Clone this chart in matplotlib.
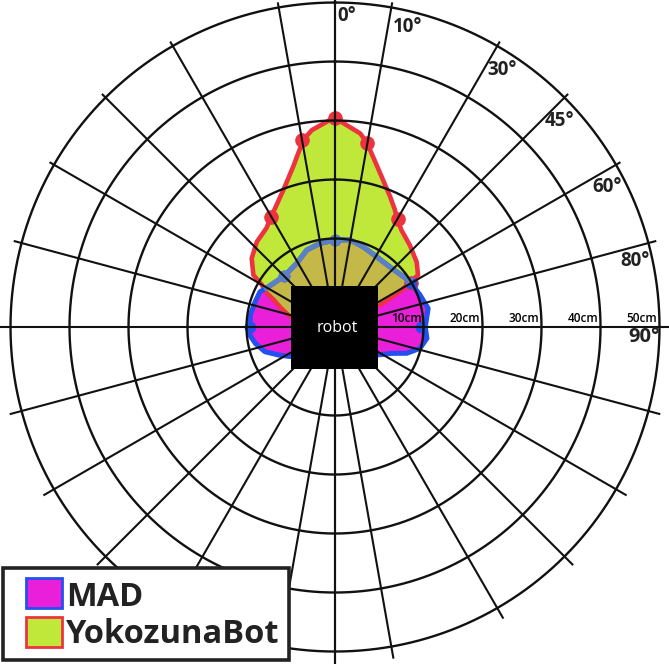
import numpy as np
import matplotlib
matplotlib.use("Agg")
import matplotlib.pyplot as plt
from matplotlib.patches import Rectangle

# distance rings (cm) and spoke directions (deg, clockwise from the front)
ring_cm = [10, 20, 30, 40, 50]
ring_labels = ['10cm', '20cm', '30cm', '40cm', '50cm']
spoke_deg = [0, 10, 30, 45, 60, 75, 90, 105, 120, 135, 150, 170, 180]
angle_labels = ['0°', '10°', '30°', '45°', '60°', '80°', '90°']

# YokozunaBot detection outline (deg, cm)
yoko_deg = [-77, -71, -66, -63, -60, -57.5, -50.5, -42.5, -34.7, -30, -20.7, -14.6,
            -9.6, -6.7, -1.4, 0, 2.3, 7.4, 9.8, 11.2, 16.3, 22.9, 27.1, 29.6, 34.5,
            42.4, 51.4, 58, 59, 61, 62.4, 64]
yoko_cm = [2.8, 4.6, 6.4, 8.3, 9.3, 11.4, 13.3, 14.6, 15.4, 16.6, 19.8, 23.1,
           27.2, 28.6, 30.1, 30.5, 29.6, 28.1, 26.7, 25.6, 22.2, 19.0, 17.3, 16.2, 14.9,
           13.8, 12.7, 11.6, 9.9, 7.9, 5.5, 3.5]
yoko_pt_deg = [-30, -10, 0, 10, 30, 60]
yoko_pt_cm = [16.6, 27.2, 30.5, 26.7, 16.2, 9.85]

# MAD detection outline (deg, cm)
mad_deg = [-123.4, -116.3, -109.4, -101.5, -95.4, -90.9, -82, -72.4, -64.8, -58.9,
           -45, -31, -20.2, -10.2, 0, 9.8, 19.4, 30.7, 42.4, 53.6, 58.9, 69.4, 78.7,
           90, 97, 104.1, 110.1, 114.9, 122.9]
mad_cm = [4.1, 5.7, 7.6, 8.8, 9.5, 9.4, 9.5, 9.2, 9.05, 8.2,
          7.2, 7.6, 8.9, 9.4, 9.75, 10.0, 9.4, 8.85, 8.8, 9.4, 9.85, 10.4, 11.1,
          10.3, 10.7, 9.85, 7.95, 5.6, 3.7]
mad_pt_deg = [-90, -45, 0, 60, 90]
mad_pt_cm = [9.4, 7.2, 9.75, 9.85, 9.6]

series_names = ['MAD', 'YokozunaBot']

GREEN = '#BFE83B'
OLIVE = '#C4B848'
PINK = '#E91FD9'
RED = '#EE3340'
BLUE = '#2350EE'
MUTED = '#5B80C4'
INK = '#111111'
TEXT = '#222222'

R0 = -5  # radius value at the very centre
W, H = 669, 664

# angle label placement (deg, cm)
label_pos_deg = [2.2, 13.7, 33, 47.5, 62.8, 77.6, 91.9]
label_pos_cm = [47.8, 47.3, 46.9, 46.7, 46.9, 47.1, 47.4]


def closed(deg, cm):
    th = np.deg2rad(deg)
    th = np.concatenate([th, [th[-1], th[0]]])
    r = np.concatenate([cm, [R0, R0]])
    return th, r


def spoke_len(d):
    if d in (0, 90, 180):
        return 60
    if d <= 60:
        return 50.7
    if d <= 75:
        return 51.2
    return 51.9


plt.rcParams['font.family'] = ['Open Sans', 'DejaVu Sans']

fig = plt.figure(figsize=(W / 100, H / 100), dpi=100)
ax = fig.add_axes([0.0157, 0.0188, 0.9701, 0.9774], projection='polar')
ax.set_theta_zero_location('N')
ax.set_theta_direction(-1)
ax.set_ylim(R0, 50)
ax.grid(False)
ax.set_xticks([])
ax.set_yticks([])
ax.spines['polar'].set_visible(False)

# filled areas
yoko_fill = ax.fill(*closed(yoko_deg, yoko_cm), color=GREEN, lw=0, zorder=1)[0]
ax.fill(*closed(mad_deg, mad_cm), color=PINK, lw=0, zorder=2)
overlap = ax.fill(*closed(mad_deg, mad_cm), color=OLIVE, lw=0, zorder=3)[0]
overlap.set_clip_path(yoko_fill)

# outlines and measured points
ax.plot(np.deg2rad(yoko_deg), yoko_cm, color=RED, lw=3.3, zorder=4,
        solid_capstyle='round', solid_joinstyle='round')
ax.plot(np.deg2rad(yoko_pt_deg), yoko_pt_cm, 'o', ms=9.5, color=RED, zorder=4)

ax.plot(np.deg2rad(mad_deg), mad_cm, color=BLUE, lw=3.6, zorder=5,
        solid_capstyle='round', solid_joinstyle='round')
ax.plot(np.deg2rad(mad_pt_deg), mad_pt_cm, 'o', ms=7.5, color=BLUE, zorder=5)
inner = ax.plot(np.deg2rad(mad_deg), mad_cm, color=MUTED, lw=3.6, zorder=5.1,
                solid_joinstyle='round')[0]
inner.set_clip_path(yoko_fill)
inner_pts = ax.plot(np.deg2rad(mad_pt_deg), mad_pt_cm, 'o', ms=7.5, color=MUTED,
                    zorder=5.1)[0]
inner_pts.set_clip_path(yoko_fill)

# grid: rings and spokes
th = np.linspace(0, 2 * np.pi, 721)
for rc in ring_cm:
    ax.plot(th, np.full_like(th, rc), color=INK, lw=1.7, zorder=6, clip_on=False)
for d in spoke_deg:
    for s in (1, -1):
        a = np.deg2rad(s * d)
        ax.plot([a, a], [R0, spoke_len(d)], color=INK, lw=1.5, zorder=6, clip_on=False)

# robot body
ax.add_patch(Rectangle((0.432, 0.435), 0.134, 0.128, transform=ax.transAxes,
                       facecolor='black', edgecolor='none', zorder=7))
ax.text(0.503, 0.498, 'robot', transform=ax.transAxes, color='white',
        fontsize=11.5, ha='center', va='center', zorder=8)

# distance labels along the 90° spoke
for rc, lab in zip(ring_cm, ring_labels):
    ax.annotate(lab, xy=(np.pi / 2, rc), xytext=(-1.5, 1.2), textcoords='offset points',
                ha='right', va='bottom', fontsize=8.5, color='black',
                fontweight='semibold', zorder=8, annotation_clip=False)

# angle labels
for lab, d, rc in zip(angle_labels, label_pos_deg, label_pos_cm):
    size = 14.5 if lab == '90°' else 13.5
    ax.text(np.deg2rad(d), rc, lab, ha='center', va='center', fontsize=size,
            fontweight='bold', color=TEXT, zorder=8, clip_on=False)

# legend box, drawn in figure pixels
def px(x, y_top):
    return x / W, 1 - y_top / H

fig.patches.append(Rectangle(px(3, 660), 286 / W, 92 / H, transform=fig.transFigure,
                             facecolor='white', edgecolor=TEXT, lw=2.6, zorder=10))
swatches = [(PINK, BLUE, 578, 606), (GREEN, RED, 617, 643)]
for name, (fc, ec, top, base) in zip(series_names, swatches):
    fig.patches.append(Rectangle(px(26, top + 30), 36 / W, 30 / H,
                                 transform=fig.transFigure, facecolor=fc,
                                 edgecolor=ec, lw=2, zorder=11))
    fig.text(*px(66, base), name, fontsize=23.5, fontweight='bold', color=TEXT,
             ha='left', va='baseline', zorder=11)

fig.savefig('out.png', dpi=100)
